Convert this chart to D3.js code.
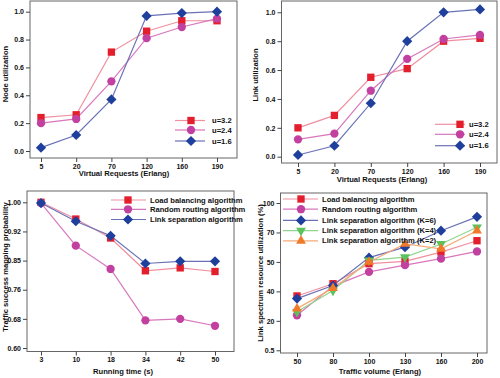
<!DOCTYPE html>
<html>
<head>
<meta charset="utf-8">
<script src="https://cdn.jsdelivr.net/npm/d3@7/dist/d3.min.js"></script>
<style>
  body { margin: 0; background: #fff; }
  text { font-family: "Liberation Sans", Arial, sans-serif; font-weight: bold; fill: #111; }
</style>
</head>
<body>
<svg id="chart" width="500" height="378"></svg>
<script>
// categories on the x axes
var requestCats = ["5", "20", "70", "120", "160", "190"];
var runTimeCats = ["3", "10", "18", "34", "42", "50"];
var trafficCats = ["50", "80", "100", "130", "160", "200"];

// node utilization vs virtual requests
var nodeU32 = [0.24, 0.26, 0.71, 0.86, 0.935, 0.935];
var nodeU24 = [0.20, 0.23, 0.50, 0.81, 0.89, 0.95];
var nodeU16 = [0.024, 0.115, 0.37, 0.97, 0.99, 1.0];

// link utilization vs virtual requests
var linkU32 = [0.20, 0.286, 0.55, 0.61, 0.80, 0.82];
var linkU24 = [0.12, 0.16, 0.457, 0.677, 0.815, 0.843];
var linkU16 = [0.012, 0.076, 0.37, 0.80, 1.0, 1.02];

// traffic success mapping probability vs running time
var probLoad = [1.0, 0.954, 0.902, 0.812, 0.82, 0.81];
var probRandom = [0.998, 0.881, 0.817, 0.676, 0.68, 0.661];
var probLinkSep = [0.998, 0.948, 0.908, 0.832, 0.838, 0.838];

// link spectrum resource utilization (%) vs traffic volume
var specLoad = [36.9, 42.6, 49.4, 50.4, 56.7, 64.4];
var specRandom = [23.8, 41.8, 46.6, 48.9, 52.2, 57.1];
var specK6 = [35.1, 42.0, 52.9, 60.0, 71.8, 85.9];
var specK4 = [26.1, 40.3, 51.1, 53.3, 62.2, 75.3];
var specK2 = [28.3, 41.1, 50.0, 62.2, 58.9, 71.8];

// tick values / labels
var utilTicks = [0, 0.2, 0.4, 0.6, 0.8, 1.0];
var probTicks = [0.60, 0.68, 0.76, 0.84, 0.92, 1.00];
var probTickLabels = ["0.60", "0.68", "0.76", "0.85", "0.92", "1.00"];
var specTicks = [0.5, 20, 40, 50, 70, 100];

var styles = {
  red:     { fill: "#e41f2d", line: "#ef8fa0", shape: "square" },
  magenta: { fill: "#c2409f", line: "#d877bd", shape: "circle" },
  blue:    { fill: "#1f3f9c", line: "#6a72b6", shape: "diamond" },
  green:   { fill: "#5cc25c", line: "#8fd68c", shape: "tridown" },
  orange:  { fill: "#f07a28", line: "#f5ab78", shape: "triup" }
};

function symbolPath(shape) {
  if (shape === "square") return d3.symbol(d3.symbolSquare, 54)();
  if (shape === "circle") return d3.symbol(d3.symbolCircle, 54)();
  if (shape === "diamond") return d3.symbol(d3.symbolSquare, 52)();
  return d3.symbol(d3.symbolTriangle, 42)();
}
function symbolRot(shape) {
  if (shape === "diamond") return 45;
  if (shape === "tridown") return 180;
  return 0;
}

var panels = [
  {
    frame: [30, 1, 237, 158], cats: requestCats, xRange: [41, 217],
    y: d3.scaleLinear().domain([0, 1]).range([151, 11.7]),
    yTicks: utilTicks, yLabels: utilTicks.map(d3.format(".1f")),
    xTitle: "Virtual Requests (Erlang)", xTitlePos: [124, 173.5],
    yTitle: "Node utilization", yTitlePos: [5, 74],
    series: [
      { name: "u=3.2", values: nodeU32, style: styles.red },
      { name: "u=2.4", values: nodeU24, style: styles.magenta },
      { name: "u=1.6", values: nodeU16, style: styles.blue }
    ],
    legend: { x1: 175, x2: 205, mx: 191, tx: 212, ys: [120.5, 130, 141] }
  },
  {
    frame: [281.5, 1, 497, 163], cats: requestCats, xRange: [298, 480],
    y: d3.scaleLinear().domain([0, 1]).range([156.7, 12.3]),
    yTicks: utilTicks, yLabels: utilTicks.map(d3.format(".1f")),
    xTitle: "Virtual Requests (Erlang)", xTitlePos: [382, 179],
    yTitle: "Link utilization", yTitlePos: [255, 75],
    series: [
      { name: "u=3.2", values: linkU32, style: styles.red },
      { name: "u=2.4", values: linkU24, style: styles.magenta },
      { name: "u=1.6", values: linkU16, style: styles.blue }
    ],
    legend: { x1: 435, x2: 465, mx: 460, tx: 469, ys: [124.3, 134.3, 145.7] }
  },
  {
    frame: [27, 191, 234, 351.5], cats: runTimeCats, xRange: [41, 215],
    y: d3.scaleLinear().domain([0.6, 1.0]).range([348, 202.3]),
    yTicks: probTicks, yLabels: probTickLabels,
    xTitle: "Running time (s)", xTitlePos: [123, 371],
    yTitle: "Traffic success mapping probability", yTitlePos: [5, 267],
    series: [
      { name: "Load balancing algorithm", values: probLoad, style: styles.red },
      { name: "Random routing algorithm", values: probRandom, style: styles.magenta },
      { name: "Link separation algorithm", values: probLinkSep, style: styles.blue }
    ],
    legend: { x1: 111, x2: 146, mx: 128, tx: 150, ys: [200, 209.3, 219.5] }
  },
  {
    frame: [280.5, 193, 487, 353], cats: trafficCats, xRange: [297, 477],
    // axis with unevenly valued but evenly spaced ticks
    y: d3.scaleLinear().domain(specTicks).range(d3.range(6).map(function (i) { return 350.3 - i * 29.46; })),
    yTicks: specTicks, yLabels: specTicks.map(String),
    xTitle: "Traffic volume (Erlang)", xTitlePos: [380, 371],
    yTitle: "Link spectrum resource utilization (%)", yTitlePos: [260, 273],
    series: [
      { name: "Load balancing algorithm", values: specLoad, style: styles.red },
      { name: "Random routing algorithm", values: specRandom, style: styles.magenta },
      { name: "Link separation algorithm (K=6)", values: specK6, style: styles.blue },
      { name: "Link separation algorithm (K=4)", values: specK4, style: styles.green },
      { name: "Link separation algorithm (K=2)", values: specK2, style: styles.orange }
    ],
    legend: { x1: 283, x2: 318, mx: 301, tx: 322, ys: [199, 209.2, 220.4, 230.6, 240.8] }
  }
];

var svg = d3.select("#chart");

panels.forEach(function (p) {
  var g = svg.append("g");
  var f = p.frame;
  var x = d3.scalePoint().domain(p.cats).range(p.xRange);

  // frame
  g.append("rect")
    .attr("x", f[0]).attr("y", f[1])
    .attr("width", f[2] - f[0]).attr("height", f[3] - f[1])
    .attr("fill", "none").attr("stroke", "#666").attr("stroke-width", 1);

  // axes
  var yAxis = d3.axisLeft(p.y).tickValues(p.yTicks)
    .tickFormat(function (d, i) { return p.yLabels[i]; })
    .tickSize(4).tickPadding(2);
  var ya = g.append("g").attr("transform", "translate(" + f[0] + ",0)").call(yAxis);

  var xAxis = d3.axisBottom(x).tickSize(4).tickPadding(2);
  var xa = g.append("g").attr("transform", "translate(0," + f[3] + ")").call(xAxis);

  [ya, xa].forEach(function (a) {
    a.select(".domain").remove();
    a.selectAll(".tick line").attr("stroke", "#444");
    a.selectAll(".tick text").attr("font-size", 7).attr("font-family", null).attr("fill", "#111");
  });

  // titles
  g.append("text")
    .attr("x", p.xTitlePos[0]).attr("y", p.xTitlePos[1]).attr("dy", "0.35em")
    .attr("text-anchor", "middle").attr("font-size", 7.6).text(p.xTitle);
  g.append("text")
    .attr("transform", "translate(" + p.yTitlePos[0] + "," + p.yTitlePos[1] + ") rotate(-90)")
    .attr("dy", "0.35em").attr("text-anchor", "middle").attr("font-size", 7.6).text(p.yTitle);

  // series
  var line = d3.line()
    .x(function (d, i) { return x(p.cats[i]); })
    .y(function (d) { return p.y(d); });

  p.series.forEach(function (s) {
    g.append("path").datum(s.values)
      .attr("d", line).attr("fill", "none")
      .attr("stroke", s.style.line).attr("stroke-width", 1.2);
  });
  p.series.forEach(function (s) {
    g.selectAll(null).data(s.values).enter().append("path")
      .attr("d", symbolPath(s.style.shape))
      .attr("transform", function (d, i) {
        return "translate(" + x(p.cats[i]) + "," + p.y(d) + ") rotate(" + symbolRot(s.style.shape) + ")";
      })
      .attr("fill", s.style.fill);
  });

  // legend
  var L = p.legend;
  var lg = g.append("g").selectAll("g").data(p.series).enter().append("g")
    .attr("transform", function (d, i) { return "translate(0," + L.ys[i] + ")"; });
  lg.append("line").attr("x1", L.x1).attr("x2", L.x2)
    .attr("stroke", function (d) { return d.style.line; }).attr("stroke-width", 1.2);
  lg.append("path")
    .attr("d", function (d) { return symbolPath(d.style.shape); })
    .attr("transform", function (d) { return "translate(" + L.mx + ",0) rotate(" + symbolRot(d.style.shape) + ")"; })
    .attr("fill", function (d) { return d.style.fill; });
  lg.append("text").attr("x", L.tx).attr("dy", "0.35em")
    .attr("font-size", 7.6).text(function (d) { return d.name; });
});
</script>
</body>
</html>
